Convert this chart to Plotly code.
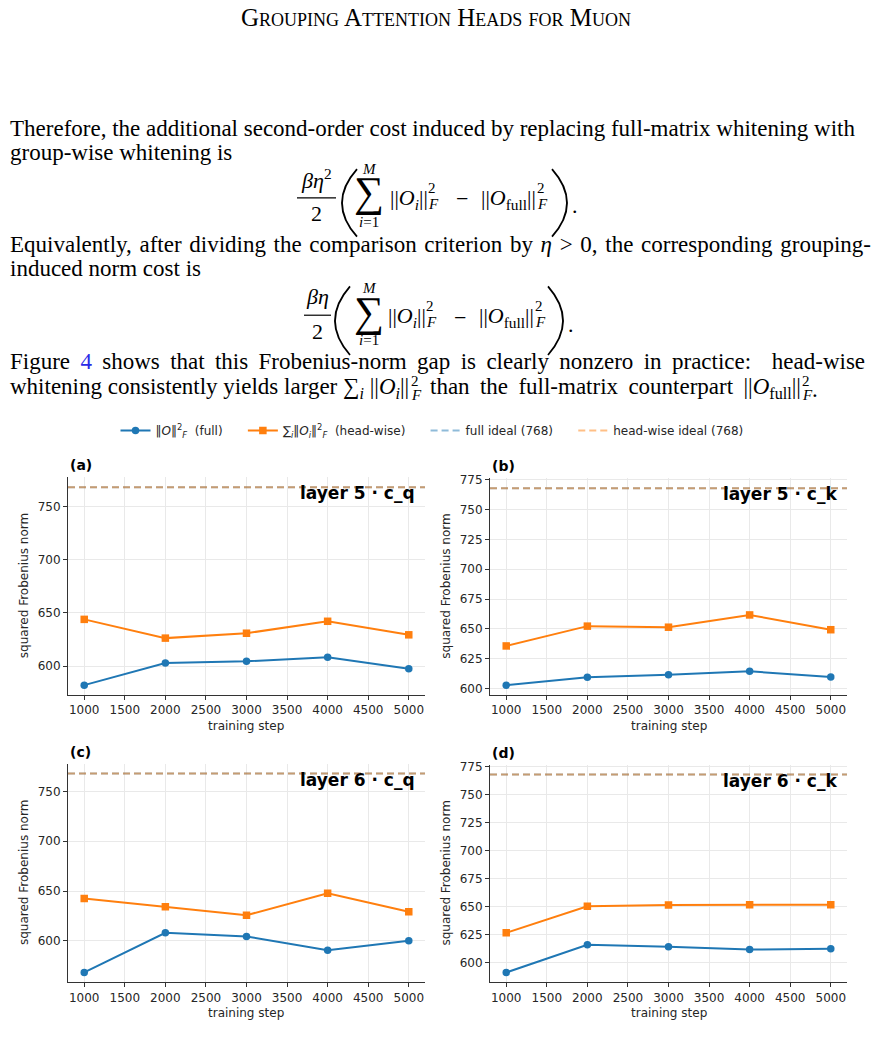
import plotly.graph_objects as go

W, H = 876, 1049

# ---------------- data ----------------
steps = [1000, 2000, 3000, 4000, 5000]
panel_labels = ["(a)", "(b)", "(c)", "(d)"]
panel_titles = ["layer 5 · c_q", "layer 5 · c_k", "layer 6 · c_q", "layer 6 · c_k"]
full_a = [582.3, 603.1, 604.7, 608.4, 597.6]
head_a = [644.0, 626.4, 631.0, 642.2, 629.5]
full_b = [602.8, 609.4, 611.6, 614.4, 609.7]
head_b = [635.7, 652.3, 651.4, 661.7, 649.3]
full_c = [568.2, 608.0, 604.3, 590.6, 600.0]
head_c = [642.4, 634.1, 625.7, 647.7, 629.1]
full_d = [591.1, 615.8, 614.0, 611.6, 612.2]
head_d = [626.5, 650.2, 651.4, 651.7, 651.7]
ideal_value = 768
y_dticks = [50, 25, 50, 25]
x_tick_step = 500

full_series = [full_a, full_b, full_c, full_d]
head_series = [head_a, head_b, head_c, head_d]

BLUE = "#1f77b4"
ORANGE = "#ff7f0e"
SANS = "DejaVu Sans"
SERIF = "Liberation Serif"
TXT = "#262626"
THIN = "\u2009"
HAIR = "\u200a"


def px(x, y):
    return x / W, 1 - y / H


# panel boxes in pixels: (x0, x1, ytop, ybottom)
boxes = [(68, 425, 475, 694), (490, 847, 476, 694),
         (68, 425, 763, 983), (490, 847, 764, 983)]

fig = go.Figure()

xspan = steps[-1] - steps[0]
xr = [steps[0] - 0.05 * xspan, steps[-1] + 0.05 * xspan]

GAP = "\u00a0" * 4
legend_names = [
    "‖<i>O</i>‖<sup>2</sup><sub><i>F</i></sub>  (full)" + GAP,
    "∑<sub><i>i</i></sub>‖<i>O<sub>i</sub></i>‖<sup>2</sup><sub><i>F</i></sub>  (head-wise)" + GAP,
    f"full ideal ({ideal_value})" + GAP,
    f"head-wise ideal ({ideal_value})",
]

layout_axes = {}
annotations = []


def ann(x, y, s, size, family, xanchor="center", color="black", textangle=0, **kw):
    X, Y = px(x, y)
    annotations.append(dict(x=X, y=Y, xref="paper", yref="paper", text=s,
                            xanchor=xanchor, yanchor="middle", showarrow=False,
                            textangle=textangle,
                            font=dict(family=family, size=size, color=color, **kw)))


for k in range(4):
    ax = "" if k == 0 else str(k + 1)
    xa, ya = "x" + ax, "y" + ax
    show = k == 0
    fv, hv = full_series[k], head_series[k]
    lo = min(fv + hv + [ideal_value])
    hi = max(fv + hv + [ideal_value])
    pad = 0.05 * (hi - lo)
    yr = [lo - pad, hi + pad]

    fig.add_trace(go.Scatter(x=xr, y=[ideal_value, ideal_value], mode="lines",
                             line=dict(color=BLUE, width=2, dash="7px,4px"), opacity=0.5,
                             name=legend_names[2], showlegend=show, legendrank=3,
                             xaxis=xa, yaxis=ya))
    fig.add_trace(go.Scatter(x=xr, y=[ideal_value, ideal_value], mode="lines",
                             line=dict(color=ORANGE, width=2, dash="7px,4px"), opacity=0.5,
                             name=legend_names[3], showlegend=show, legendrank=4,
                             xaxis=xa, yaxis=ya))
    fig.add_trace(go.Scatter(x=steps, y=fv, mode="lines+markers",
                             line=dict(color=BLUE, width=2),
                             marker=dict(symbol="circle", size=7.5, color=BLUE),
                             name=legend_names[0], showlegend=show, legendrank=1,
                             xaxis=xa, yaxis=ya))
    fig.add_trace(go.Scatter(x=steps, y=hv, mode="lines+markers",
                             line=dict(color=ORANGE, width=2),
                             marker=dict(symbol="square", size=7.5, color=ORANGE),
                             name=legend_names[1], showlegend=show, legendrank=2,
                             xaxis=xa, yaxis=ya))

    x0, x1, yt, yb = boxes[k]
    common = dict(showline=True, linecolor="#333333", linewidth=1, mirror=False,
                  ticks="outside", ticklen=4, tickwidth=1, tickcolor="#333333",
                  showgrid=True, gridcolor="#e9e9e9", gridwidth=1, zeroline=False,
                  tickfont=dict(family=SANS, size=12, color=TXT))
    layout_axes["xaxis" + ax] = dict(domain=[x0 / W, x1 / W], range=xr, anchor=ya,
                                     tick0=steps[0], dtick=x_tick_step, **common)
    layout_axes["yaxis" + ax] = dict(domain=[1 - yb / H, 1 - yt / H], range=yr, anchor=xa,
                                     tick0=0, dtick=y_dticks[k], **common)

    ann(x0, yt - 12, "<b>" + panel_labels[k] + "</b>", 14, SANS, xanchor="left")
    ann(x1 - 8, yt + 16, "<b>" + panel_titles[k] + "</b>", 17, SANS, xanchor="right")
    ann((x0 + x1) / 2, yb + 31, "training step", 12, SANS, color=TXT)
    ann(x0 - 44, (yt + yb) / 2, "squared Frobenius norm", 12, SANS, color=TXT, textangle=-90)


def txt(x, y, s, size=23, xanchor="left", family=SERIF, dy=-3, **kw):
    ann(x, y + dy, s, size, family, xanchor=xanchor, **kw)


def spread(s, extra):
    return s.replace(" ", " " + extra)


# header
txt(436, 16, "Grouping Attention Heads for Muon", size=25, xanchor="center", variant="small-caps")

# body text
txt(8, 127, "Therefore, the additional second-order cost induced by replacing full-matrix whitening with")
txt(8, 151, "group-wise whitening is")
txt(8, 244, spread("Equivalently, after dividing the comparison criterion by <i>η</i> &gt; 0, the corresponding grouping-", HAIR))
txt(8, 268, "induced norm cost is")
txt(8, 362, spread("Figure <span style=\"color:#2a2ae6\">4</span> shows that this Frobenius-norm gap is clearly nonzero in practice:  head-wise", THIN))
# last line: inline math with stacked super/subscripts
txt(8, 388, "whitening consistently yields larger ∑<sub><i>i</i></sub> ||<i>O<sub>i</sub></i>||")
txt(409, 381, "2", size=15)
txt(409, 395, "<i>F</i>", size=15)
txt(428, 388, spread("than the full-matrix counterpart ||<i>O</i><sub>full</sub>||", THIN))
txt(800, 381, "2", size=15)
txt(800, 395, "<i>F</i>", size=15)
txt(815, 390, ".", size=23, xanchor="center")

shapes = []


def hline(xa, xb, y, w=1.2):
    X0, Y0 = px(xa, y)
    X1, _ = px(xb, y)
    shapes.append(dict(type="line", xref="paper", yref="paper", x0=X0, x1=X1, y0=Y0, y1=Y0,
                       line=dict(color="black", width=w)))


def paren(xtip, xbulge, ytop, ybot, w=1.8):
    cx = 2 * xbulge - xtip
    a = px(xtip, ytop)
    c = px(cx, (ytop + ybot) / 2)
    b = px(xtip, ybot)
    path = f"M {a[0]},{a[1]} Q {c[0]},{c[1]} {b[0]},{b[1]}"
    shapes.append(dict(type="path", xref="paper", yref="paper", path=path,
                       line=dict(color="black", width=w)))


def equation(num, cx, ynum, ybar, yden, barx, ptop, pbot, lp, sumx, ysum, yM, yi,
             nx, ny, supx1, minus_x, fx, supx2, rp, dot):
    txt(cx, ynum, num, size=22, xanchor="center")
    hline(barx[0], barx[1], ybar)
    txt(cx, yden, "2", size=22, xanchor="center")
    paren(lp[0], lp[1], ptop, pbot)
    txt(sumx, yM, "<i>M</i>", size=15, xanchor="center")
    txt(sumx, ysum, "∑", size=42, xanchor="center")
    txt(sumx, yi, "<i>i</i>=1", size=15, xanchor="center")
    txt(nx, ny, "||<i>O<sub>i</sub></i>||", size=22)
    txt(supx1, ny - 11, "2", size=15)
    txt(supx1, ny + 5, "<i>F</i>", size=15)
    txt(minus_x, ny, "−", size=22, xanchor="center")
    txt(fx, ny, "||<i>O</i><sub>full</sub>||", size=22)
    txt(supx2, ny - 11, "2", size=15)
    txt(supx2, ny + 5, "<i>F</i>", size=15)
    paren(rp[0], rp[1], ptop, pbot)
    txt(dot, ny + 7, ".", size=22, xanchor="center")


equation("<i>βη</i><sup>2</sup>", 316, 178, 194, 213, (297, 336), 165, 233, (357, 342),
         369, 191, 168, 221, 388, 198, 426, 462, 479, 535, (552, 567), 575)
equation("<i>βη</i>", 317, 296, 312, 331, (304, 331), 283, 352, (350, 335),
         369, 312, 288, 340, 386, 317, 424, 460, 477, 533, (548, 563), 571)

lgx, lgy = px(432, 428)
fig.update_layout(
    width=W, height=H, margin=dict(l=0, r=0, t=0, b=0),
    paper_bgcolor="white", plot_bgcolor="white",
    showlegend=True,
    legend=dict(orientation="h", x=lgx, y=lgy, xanchor="center", yanchor="middle",
                font=dict(family=SANS, size=12, color=TXT), bgcolor="rgba(0,0,0,0)",
                itemwidth=30, tracegroupgap=0),
    annotations=annotations, shapes=shapes,
    **layout_axes,
)

fig.write_html("out.html")
